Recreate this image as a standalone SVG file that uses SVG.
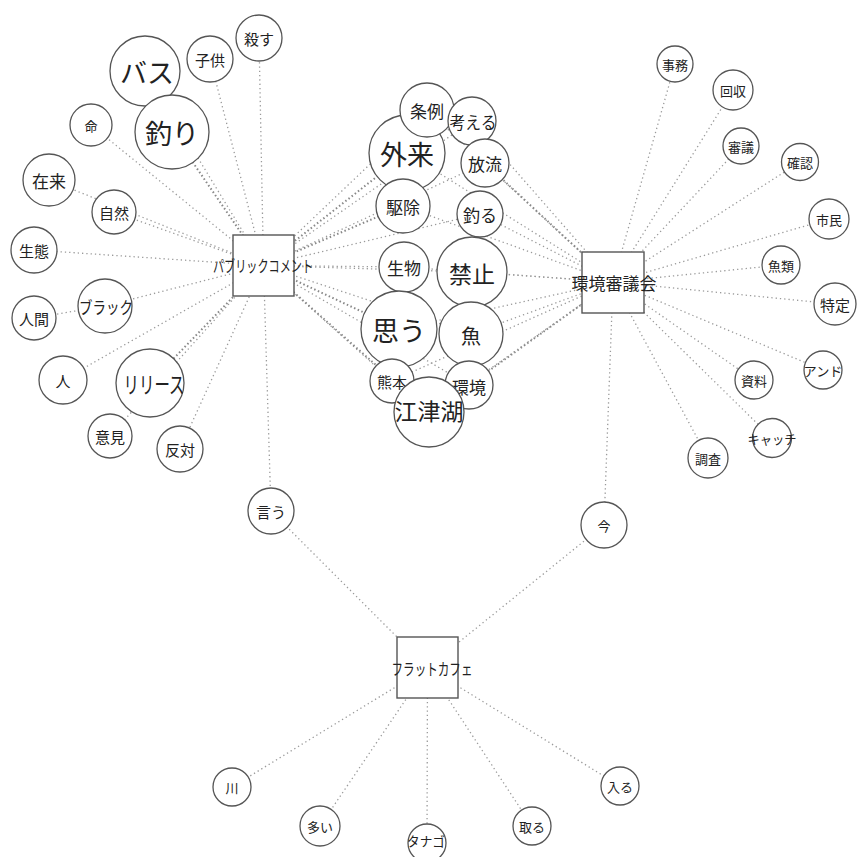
<svg xmlns="http://www.w3.org/2000/svg" width="857" height="857" viewBox="0 0 857 857">
  <style>
    .bg { fill: #ffffff; }
    .edge { stroke: #9a9a9a; stroke-width: 1.3; stroke-dasharray: 1.3 3; fill: none; }
    .edge.strong { stroke: #888; stroke-width: 2; stroke-dasharray: 1.5 2.5; }
    .word circle { fill: #ffffff; stroke: #555555; stroke-width: 1.3; }
    .hub rect { fill: #ffffff; stroke: #555555; stroke-width: 1.4; }
    text { font-family: "Noto Sans CJK JP", "Noto Sans", sans-serif; fill: #222222; text-anchor: middle; dominant-baseline: central; }
    .s13 { font-size: 13px; }
    .s15 { font-size: 15px; }
    .s17 { font-size: 17px; }
    .s20 { font-size: 20px; }
    .s23 { font-size: 23px; }
    .s26 { font-size: 27px; }
    .hubtxt { font-size: 16px; }
  </style>
  <rect class="bg" x="0" y="0" width="857" height="857"/>

  <g id="connectors">
    <!-- パブリックコメント: outer words -->
    <line class="edge" x1="263.5" y1="265.5" x2="145" y2="71"/>
    <line class="edge strong" x1="263.5" y1="265.5" x2="172" y2="132"/>
    <line class="edge" x1="263.5" y1="265.5" x2="210" y2="59"/>
    <line class="edge" x1="263.5" y1="265.5" x2="259" y2="38"/>
    <line class="edge" x1="263.5" y1="265.5" x2="91" y2="125"/>
    <line class="edge" x1="263.5" y1="265.5" x2="49" y2="180"/>
    <line class="edge" x1="263.5" y1="265.5" x2="114" y2="212"/>
    <line class="edge" x1="263.5" y1="265.5" x2="34" y2="250"/>
    <line class="edge" x1="263.5" y1="265.5" x2="105" y2="306"/>
    <line class="edge" x1="105" y1="306" x2="34" y2="318"/>
    <line class="edge" x1="263.5" y1="265.5" x2="63" y2="380"/>
    <line class="edge strong" x1="263.5" y1="265.5" x2="150" y2="383"/>
    <line class="edge" x1="263.5" y1="265.5" x2="110" y2="436"/>
    <line class="edge" x1="263.5" y1="265.5" x2="180" y2="449"/>
    <!-- パブリックコメント: shared words -->
    <line class="edge" x1="263.5" y1="265.5" x2="427" y2="110"/>
    <line class="edge" x1="263.5" y1="265.5" x2="472" y2="121"/>
    <line class="edge strong" x1="263.5" y1="265.5" x2="407" y2="153"/>
    <line class="edge" x1="263.5" y1="265.5" x2="485" y2="163"/>
    <line class="edge strong" x1="263.5" y1="265.5" x2="403" y2="206"/>
    <line class="edge" x1="263.5" y1="265.5" x2="480" y2="214"/>
    <line class="edge" x1="263.5" y1="265.5" x2="404" y2="267"/>
    <line class="edge" x1="263.5" y1="265.5" x2="472" y2="272"/>
    <line class="edge strong" x1="263.5" y1="265.5" x2="399" y2="329"/>
    <line class="edge" x1="263.5" y1="265.5" x2="471" y2="334"/>
    <line class="edge" x1="263.5" y1="265.5" x2="392" y2="381"/>
    <line class="edge" x1="263.5" y1="265.5" x2="469" y2="385"/>
    <line class="edge strong" x1="263.5" y1="265.5" x2="429" y2="412"/>
    <!-- 環境審議会: shared words -->
    <line class="edge" x1="613" y1="282" x2="427" y2="110"/>
    <line class="edge" x1="613" y1="282" x2="472" y2="121"/>
    <line class="edge" x1="613" y1="282" x2="407" y2="153"/>
    <line class="edge strong" x1="613" y1="282" x2="485" y2="163"/>
    <line class="edge" x1="613" y1="282" x2="403" y2="206"/>
    <line class="edge" x1="613" y1="282" x2="480" y2="214"/>
    <line class="edge" x1="613" y1="282" x2="404" y2="267"/>
    <line class="edge" x1="613" y1="282" x2="472" y2="272"/>
    <line class="edge" x1="613" y1="282" x2="399" y2="329"/>
    <line class="edge" x1="613" y1="282" x2="471" y2="334"/>
    <line class="edge" x1="613" y1="282" x2="392" y2="381"/>
    <line class="edge strong" x1="613" y1="282" x2="469" y2="385"/>
    <line class="edge" x1="613" y1="282" x2="429" y2="412"/>
    <!-- 環境審議会: outer words -->
    <line class="edge" x1="613" y1="282" x2="675" y2="64"/>
    <line class="edge" x1="613" y1="282" x2="733" y2="90"/>
    <line class="edge" x1="613" y1="282" x2="741" y2="146"/>
    <line class="edge" x1="613" y1="282" x2="800" y2="162"/>
    <line class="edge" x1="613" y1="282" x2="829" y2="219"/>
    <line class="edge" x1="613" y1="282" x2="781" y2="265"/>
    <line class="edge" x1="613" y1="282" x2="835" y2="304"/>
    <line class="edge" x1="613" y1="282" x2="823" y2="370"/>
    <line class="edge" x1="613" y1="282" x2="754" y2="380"/>
    <line class="edge" x1="613" y1="282" x2="772" y2="438"/>
    <line class="edge" x1="613" y1="282" x2="708" y2="458"/>
    <!-- links to フラットカフェ -->
    <line class="edge" x1="263.5" y1="265.5" x2="271" y2="511"/>
    <line class="edge" x1="271" y1="511" x2="427.5" y2="667.5"/>
    <line class="edge" x1="613" y1="282" x2="604" y2="525"/>
    <line class="edge" x1="604" y1="525" x2="427.5" y2="667.5"/>
    <line class="edge" x1="427.5" y1="667.5" x2="232" y2="787"/>
    <line class="edge" x1="427.5" y1="667.5" x2="320" y2="826"/>
    <line class="edge" x1="427.5" y1="667.5" x2="427" y2="843"/>
    <line class="edge" x1="427.5" y1="667.5" x2="532" y2="826"/>
    <line class="edge" x1="427.5" y1="667.5" x2="620" y2="786"/>
  </g>

  <!-- hub nodes -->
  <g id="hub-public-comment" class="hub">
    <rect x="233" y="235" width="61" height="61"/>
    <text class="hubtxt" x="263" y="265" textLength="100" lengthAdjust="spacingAndGlyphs">パブリックコメント</text>
  </g>
  <g id="hub-council" class="hub">
    <rect x="582" y="252" width="62" height="61"/>
    <text class="hubtxt" x="614" y="282" style="font-size:17px" textLength="85" lengthAdjust="spacingAndGlyphs">環境審議会</text>
  </g>
  <g id="hub-flatcafe" class="hub">
    <rect x="397" y="637" width="61" height="61"/>
    <text class="hubtxt" x="432" y="668" textLength="81" lengthAdjust="spacingAndGlyphs">フラットカフェ</text>
  </g>

  <!-- left words -->
  <g id="w-bass" class="word"><circle cx="145" cy="71" r="35"/><text class="s26" x="147" y="71">バス</text></g>
  <g id="w-tsuri" class="word"><circle cx="172" cy="132" r="37"/><text class="s26" x="172" y="132">釣り</text></g>
  <g id="w-kodomo" class="word"><circle cx="210" cy="59" r="23"/><text class="s15" x="210" y="59">子供</text></g>
  <g id="w-korosu" class="word"><circle cx="259" cy="38" r="23"/><text class="s15" x="259" y="38">殺す</text></g>
  <g id="w-inochi" class="word"><circle cx="91" cy="125" r="21"/><text class="s13" x="91" y="125">命</text></g>
  <g id="w-zairai" class="word"><circle cx="49" cy="180" r="26"/><text class="s17" x="49" y="180">在来</text></g>
  <g id="w-shizen" class="word"><circle cx="114" cy="212" r="22"/><text class="s15" x="114" y="212">自然</text></g>
  <g id="w-seitai" class="word"><circle cx="34" cy="250" r="23"/><text class="s15" x="34" y="250">生態</text></g>
  <g id="w-black" class="word"><circle cx="105" cy="306" r="27"/><text class="s17" x="106" y="306" textLength="54" lengthAdjust="spacingAndGlyphs">ブラック</text></g>
  <g id="w-ningen" class="word"><circle cx="34" cy="318" r="22"/><text class="s15" x="34" y="318">人間</text></g>
  <g id="w-hito" class="word"><circle cx="63" cy="380" r="24"/><text class="s15" x="63" y="380">人</text></g>
  <g id="w-release" class="word"><circle cx="150" cy="383" r="34"/><text class="s23" x="154" y="383" textLength="61" lengthAdjust="spacingAndGlyphs">リリース</text></g>
  <g id="w-iken" class="word"><circle cx="110" cy="436" r="22"/><text class="s15" x="110" y="436">意見</text></g>
  <g id="w-hantai" class="word"><circle cx="180" cy="449" r="23"/><text class="s15" x="180" y="449">反対</text></g>

  <!-- shared words -->
  <g id="w-gairai" class="word"><circle cx="407" cy="153" r="38"/><text class="s26" x="407" y="153">外来</text></g>
  <g id="w-jorei" class="word"><circle cx="427" cy="110" r="27"/><text class="s17" x="427" y="110">条例</text></g>
  <g id="w-kangaeru" class="word"><circle cx="472" cy="121" r="24"/><text class="s17" x="473" y="121" textLength="47" lengthAdjust="spacingAndGlyphs">考える</text></g>
  <g id="w-horyu" class="word"><circle cx="485" cy="163" r="24"/><text class="s17" x="485" y="163">放流</text></g>
  <g id="w-kujo" class="word"><circle cx="403" cy="206" r="27"/><text class="s17" x="403" y="206">駆除</text></g>
  <g id="w-tsuru" class="word"><circle cx="480" cy="214" r="23"/><text class="s17" x="480" y="214">釣る</text></g>
  <g id="w-seibutsu" class="word"><circle cx="404" cy="267" r="25"/><text class="s17" x="404" y="267">生物</text></g>
  <g id="w-kinshi" class="word"><circle cx="472" cy="272" r="35"/><text class="s23" x="472" y="273">禁止</text></g>
  <g id="w-omou" class="word"><circle cx="399" cy="329" r="38"/><text class="s26" x="399" y="329">思う</text></g>
  <g id="w-sakana" class="word"><circle cx="471" cy="334" r="32"/><text class="s20" x="471" y="335">魚</text></g>
  <g id="w-kumamoto" class="word"><circle cx="392" cy="381" r="22"/><text class="s15" x="392" y="381">熊本</text></g>
  <g id="w-kankyo" class="word"><circle cx="469" cy="385" r="24"/><text class="s17" x="469" y="386">環境</text></g>
  <g id="w-ezuko" class="word"><circle cx="429" cy="412" r="35"/><text class="s23" x="429" y="410">江津湖</text></g>

  <!-- right words -->
  <g id="w-jimu" class="word"><circle cx="675" cy="64" r="18"/><text class="s13" x="675" y="64">事務</text></g>
  <g id="w-kaishu" class="word"><circle cx="733" cy="90" r="20"/><text class="s13" x="733" y="90">回収</text></g>
  <g id="w-shingi" class="word"><circle cx="741" cy="146" r="18"/><text class="s13" x="741" y="146">審議</text></g>
  <g id="w-kakunin" class="word"><circle cx="800" cy="162" r="18.5"/><text class="s13" x="800" y="162">確認</text></g>
  <g id="w-shimin" class="word"><circle cx="829" cy="219" r="20"/><text class="s13" x="829" y="219">市民</text></g>
  <g id="w-gyorui" class="word"><circle cx="781" cy="265" r="19"/><text class="s13" x="781" y="265">魚類</text></g>
  <g id="w-tokutei" class="word"><circle cx="835" cy="304" r="21"/><text class="s15" x="835" y="304">特定</text></g>
  <g id="w-and" class="word"><circle cx="823" cy="370" r="19"/><text class="s13" x="823" y="370" textLength="39" lengthAdjust="spacingAndGlyphs">アンド</text></g>
  <g id="w-shiryo" class="word"><circle cx="754" cy="380" r="19"/><text class="s13" x="754" y="380">資料</text></g>
  <g id="w-catch" class="word"><circle cx="772" cy="438" r="19.5"/><text class="s13" x="772" y="438" textLength="49" lengthAdjust="spacingAndGlyphs">キャッチ</text></g>
  <g id="w-chosa" class="word"><circle cx="708" cy="458" r="20"/><text class="s13" x="708" y="458">調査</text></g>

  <!-- bottom words -->
  <g id="w-iu" class="word"><circle cx="271" cy="511" r="23"/><text class="s15" x="271" y="511">言う</text></g>
  <g id="w-ima" class="word"><circle cx="604" cy="525" r="23"/><text class="s13" x="604" y="525">今</text></g>
  <g id="w-kawa" class="word"><circle cx="232" cy="787" r="19"/><text class="s13" x="232" y="787">川</text></g>
  <g id="w-ooi" class="word"><circle cx="320" cy="826" r="20"/><text class="s13" x="320" y="826">多い</text></g>
  <g id="w-tanago" class="word"><circle cx="427" cy="843" r="19"/><text class="s13" x="426" y="840" textLength="38" lengthAdjust="spacingAndGlyphs">タナゴ</text></g>
  <g id="w-toru" class="word"><circle cx="532" cy="826" r="19"/><text class="s13" x="532" y="826">取る</text></g>
  <g id="w-hairu" class="word"><circle cx="620" cy="786" r="19"/><text class="s13" x="620" y="786">入る</text></g>
</svg>
